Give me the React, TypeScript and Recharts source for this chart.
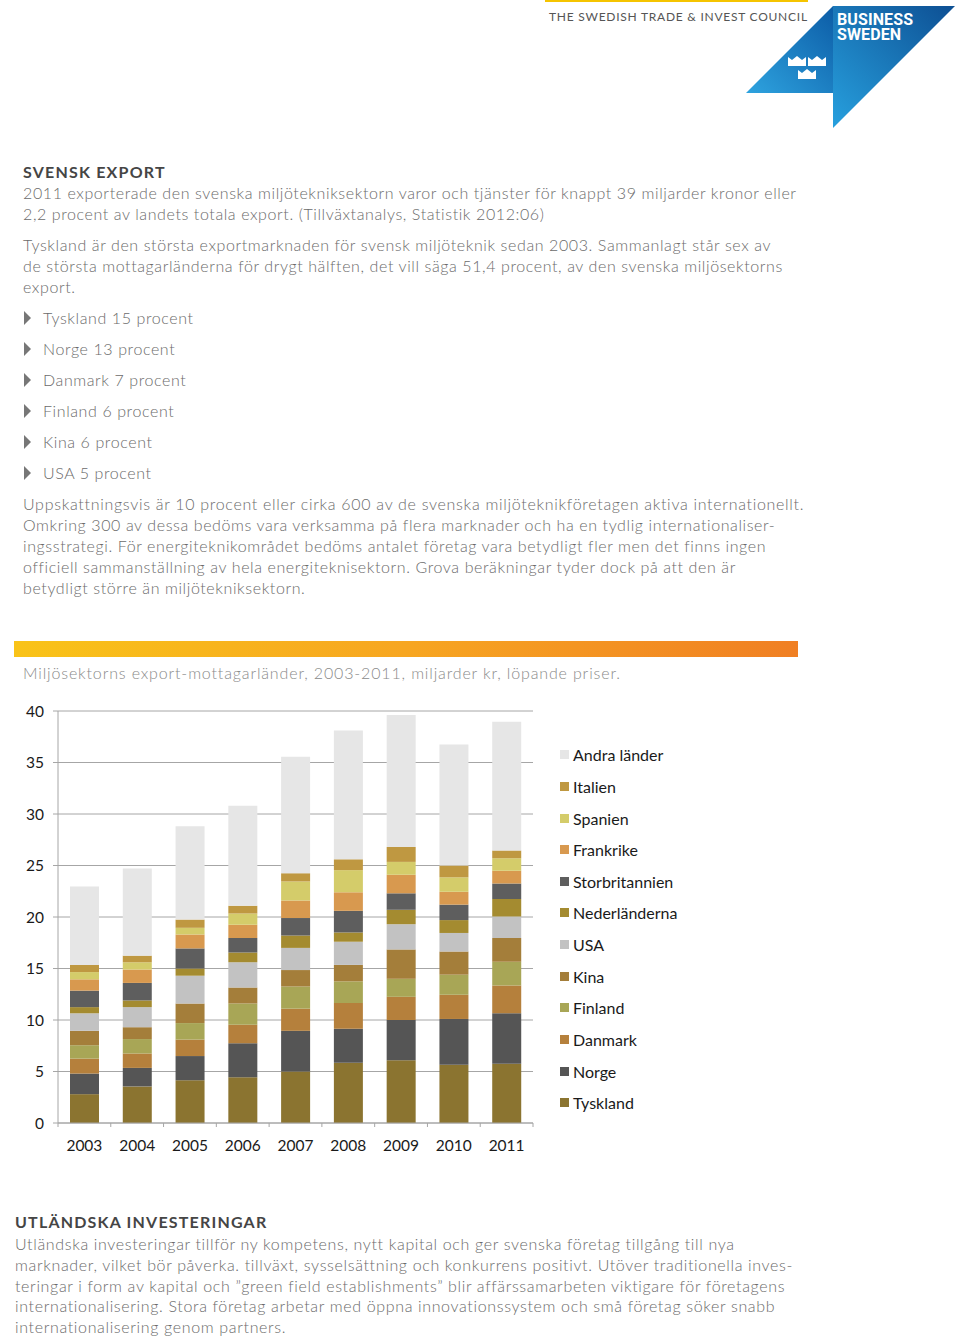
import React from 'react';
import { BarChart, Bar, XAxis, YAxis, CartesianGrid } from 'recharts';

// kategorier och serier (miljarder kr), nedifrån och upp i stapeln
const years = ['2003', '2004', '2005', '2006', '2007', '2008', '2009', '2010', '2011'];
const tyskland = [2.8, 3.55, 4.15, 4.45, 5.0, 5.85, 6.1, 5.65, 5.75];
const norge = [2.0, 1.8, 2.35, 3.3, 3.95, 3.3, 3.9, 4.45, 4.9];
const danmark = [1.45, 1.4, 1.6, 1.8, 2.15, 2.5, 2.25, 2.35, 2.7];
const finland = [1.3, 1.4, 1.6, 2.05, 2.15, 2.1, 1.75, 1.95, 2.3];
const kina = [1.4, 1.15, 1.9, 1.55, 1.6, 1.6, 2.85, 2.25, 2.3];
const usa = [1.7, 1.95, 2.7, 2.45, 2.15, 2.25, 2.45, 1.8, 2.1];
const nederlanderna = [0.6, 0.65, 0.7, 0.95, 1.2, 0.9, 1.4, 1.25, 1.7];
const storbritannien = [1.6, 1.7, 1.95, 1.4, 1.7, 2.1, 1.6, 1.5, 1.5];
const frankrike = [1.1, 1.3, 1.35, 1.3, 1.7, 1.8, 1.8, 1.25, 1.25];
const spanien = [0.7, 0.7, 0.65, 1.1, 1.85, 2.15, 1.25, 1.4, 1.2];
const italien = [0.7, 0.65, 0.8, 0.75, 0.8, 1.05, 1.45, 1.15, 0.75];
const andra = [7.6, 8.45, 9.05, 9.7, 11.3, 12.5, 12.8, 11.75, 12.5];
const yTicks = [0, 5, 10, 15, 20, 25, 30, 35, 40];

const series = [
    { key: 'Tyskland', values: tyskland, color: '#8b7430' },
    { key: 'Norge', values: norge, color: '#555555' },
    { key: 'Danmark', values: danmark, color: '#b5803c' },
    { key: 'Finland', values: finland, color: '#a8a656' },
    { key: 'Kina', values: kina, color: '#a47e3a' },
    { key: 'USA', values: usa, color: '#c2c2c2' },
    { key: 'Nederländerna', values: nederlanderna, color: '#a48b30' },
    { key: 'Storbritannien', values: storbritannien, color: '#5e5e5e' },
    { key: 'Frankrike', values: frankrike, color: '#d8994f' },
    { key: 'Spanien', values: spanien, color: '#d4cc6a' },
    { key: 'Italien', values: italien, color: '#bf9841' },
    { key: 'Andra länder', values: andra, color: '#e6e6e6' },
];

const data = years.map((year, i) => {
    const row: Record<string, string | number> = { year };
    series.forEach(s => { row[s.key] = s.values[i]; });
    return row;
});

const bullets = ['Tyskland 15 procent', 'Norge 13 procent', 'Danmark 7 procent', 'Finland 6 procent', 'Kina 6 procent', 'USA 5 procent'];

const CHART_W = 700;
const CHART_H = 480;
const MARGIN = { top: 21, right: 167, bottom: 17, left: 0 };
const Y_W = 58;
const BAND = (CHART_W - MARGIN.left - MARGIN.right - Y_W) / years.length;
const AXIS_GRAY = '#a6a6a6';
const TICK_GAP = 17;

const XTick = (props: any) => {
    const { x, y, payload, index } = props;
    const axisY = y - TICK_GAP;
    return (
        <g>
            <line x1={x - BAND / 2} x2={x - BAND / 2} y1={axisY} y2={axisY + 4} stroke={AXIS_GRAY} />
            {index === years.length - 1 && (
                <line x1={x + BAND / 2} x2={x + BAND / 2} y1={axisY} y2={axisY + 4} stroke={AXIS_GRAY} />
            )}
            <text x={x} y={y} dy="0.71em" textAnchor="middle" fill="#1a1a1a" fontSize={15.5} fontFamily="Lato">
                {payload.value}
            </text>
        </g>
    );
};

const LegendList = () => (
    <div style={{ position: 'absolute', left: 560, top: 739, fontFamily: 'Lato', fontSize: 16, color: '#1a1a1a' }}>
        {[...series].reverse().map(s => (
            <div key={s.key} style={{ height: 31.64, display: 'flex', alignItems: 'center', whiteSpace: 'nowrap' }}>
                <span style={{ width: 9, height: 9, background: s.color, display: 'inline-block', marginRight: 4 }} />
                {s.key}
            </div>
        ))}
    </div>
);

const Line: React.FC<{ x: number; y: number; style?: React.CSSProperties; children: React.ReactNode }> = ({ x, y, style, children }) => (
    <div style={{ position: 'absolute', left: x, top: y - 11, lineHeight: '22px', whiteSpace: 'nowrap', ...style }}>{children}</div>
);

const body: React.CSSProperties = { fontSize: 16, fontWeight: 300, color: '#6b6b6b', letterSpacing: 0.6 };
const heading: React.CSSProperties = { fontSize: 16, fontWeight: 700, color: '#454545', letterSpacing: 1.2 };

const Crown: React.FC<{ cx: number; cy: number }> = ({ cx, cy }) => (
    <path
        d={`M${cx - 9} ${cy + 5} L${cx - 9} ${cy - 4} L${cx - 5} ${cy - 1} L${cx} ${cy - 5} L${cx + 5} ${cy - 1} L${cx + 9} ${cy - 4} L${cx + 9} ${cy + 5} Z`}
        fill="#fff"
    />
);

export default function App() {
    return (
        <div style={{ position: 'relative', width: 960, height: 1336, background: '#fff', overflow: 'hidden', fontFamily: 'Lato' }}>
            <style>{'body{margin:0}'}</style>

            {/* sidhuvud med logga */}
            <div style={{ position: 'absolute', left: 545, top: 0, width: 263, height: 2, background: '#f5c400' }} />
            <Line x={549} y={17} style={{ fontSize: 12, color: '#555', letterSpacing: 0.75 }}>THE SWEDISH TRADE &amp; INVEST COUNCIL</Line>
            <svg width={960} height={140} style={{ position: 'absolute', left: 0, top: 0 }}>
                <defs>
                    <linearGradient id="lg1" x1="0" y1="1" x2="1" y2="0">
                        <stop offset="0" stopColor="#2ea3df" />
                        <stop offset="1" stopColor="#0c5ca6" />
                    </linearGradient>
                    <linearGradient id="lg2" x1="0" y1="1" x2="1" y2="0">
                        <stop offset="0" stopColor="#27a0de" />
                        <stop offset="1" stopColor="#0d4f93" />
                    </linearGradient>
                </defs>
                <polygon points="746,93 833,6 833,93" fill="url(#lg1)" />
                <polygon points="833,6 955,6 833,128" fill="url(#lg2)" />
                <Crown cx={797} cy={61} />
                <Crown cx={817} cy={61} />
                <Crown cx={807} cy={74} />
                <text x={837} y={25} fill="#fff" fontSize={16} fontWeight={700} fontFamily="Roboto" letterSpacing={0.1}>BUSINESS</text>
                <text x={837} y={40} fill="#fff" fontSize={16} fontWeight={700} fontFamily="Roboto" letterSpacing={0.1}>SWEDEN</text>
            </svg>

            {/* Svensk export */}
            <Line x={23} y={172} style={heading}>SVENSK EXPORT</Line>
            <Line x={23} y={193} style={body}>2011 exporterade den svenska miljötekniksektorn varor och tjänster för knappt 39 miljarder kronor eller</Line>
            <Line x={23} y={214} style={body}>2,2 procent av landets totala export. (Tillväxtanalys, Statistik 2012:06)</Line>
            <Line x={23} y={245} style={body}>Tyskland är den största exportmarknaden för svensk miljöteknik sedan 2003. Sammanlagt står sex av</Line>
            <Line x={23} y={266} style={body}>de största mottagarländerna för drygt hälften, det vill säga 51,4 procent, av den svenska miljösektorns</Line>
            <Line x={23} y={287} style={body}>export.</Line>
            {bullets.map((b, i) => (
                <React.Fragment key={b}>
                    <svg width={10} height={16} style={{ position: 'absolute', left: 23, top: 318 + i * 31 - 8 }}>
                        <polygon points="1,1 8,8 1,15" fill="#777" />
                    </svg>
                    <Line x={43} y={318 + i * 31} style={body}>{b}</Line>
                </React.Fragment>
            ))}
            <Line x={23} y={504} style={{ ...body, letterSpacing: 0.7 }}>Uppskattningsvis är 10 procent eller cirka 600 av de svenska miljöteknikföretagen aktiva internationellt.</Line>
            <Line x={23} y={525} style={body}>Omkring 300 av dessa bedöms vara verksamma på flera marknader och ha en tydlig internationaliser-</Line>
            <Line x={23} y={546} style={body}>ingsstrategi. För energiteknikområdet bedöms antalet företag vara betydligt fler men det finns ingen</Line>
            <Line x={23} y={567} style={body}>officiell sammanställning av hela energiteknisektorn. Grova beräkningar tyder dock på att den är</Line>
            <Line x={23} y={588} style={body}>betydligt större än miljötekniksektorn.</Line>

            {/* diagram */}
            <div style={{ position: 'absolute', left: 14, top: 641, width: 784, height: 16, background: 'linear-gradient(90deg, #f9c318 0%, #f7a621 50%, #f07f23 100%)' }} />
            <Line x={23} y={673} style={{ ...body, color: '#8a8a8a', letterSpacing: 0.85 }}>Miljösektorns export-mottagarländer, 2003-2011, miljarder kr, löpande priser.</Line>

            <div style={{ position: 'absolute', left: 0, top: 690 }}>
                <BarChart width={CHART_W} height={CHART_H} data={data} margin={MARGIN}>
                    <CartesianGrid vertical={false} stroke={AXIS_GRAY} />
                    <XAxis
                        dataKey="year"
                        height={30}
                        stroke={AXIS_GRAY}
                        tickLine={false}
                        tickSize={0}
                        tickMargin={TICK_GAP}
                        interval={0}
                        tick={<XTick />}
                    />
                    <YAxis
                        width={Y_W}
                        domain={[0, 40]}
                        ticks={yTicks}
                        interval={0}
                        stroke={AXIS_GRAY}
                        tickSize={5}
                        tickMargin={9}
                        tick={{ fill: '#1a1a1a', fontSize: 15.5, fontFamily: 'Lato' }}
                    />
                    {series.map(s => (
                        <Bar key={s.key} dataKey={s.key} stackId="a" fill={s.color} barSize={29} isAnimationActive={false} />
                    ))}
                </BarChart>
            </div>
            <LegendList />

            {/* Utländska investeringar */}
            <Line x={15} y={1222} style={heading}>UTLÄNDSKA INVESTERINGAR</Line>
            <Line x={15} y={1244} style={{ ...body, letterSpacing: 0.65 }}>Utländska investeringar tillför ny kompetens, nytt kapital och ger svenska företag tillgång till nya</Line>
            <Line x={15} y={1265} style={{ ...body, letterSpacing: 0.65 }}>marknader, vilket bör påverka. tillväxt, sysselsättning och konkurrens positivt. Utöver traditionella inves-</Line>
            <Line x={15} y={1286} style={{ ...body, letterSpacing: 0.65 }}>teringar i form av kapital och ”green field establishments” blir affärssamarbeten viktigare för företagens</Line>
            <Line x={15} y={1306} style={{ ...body, letterSpacing: 0.65 }}>internationalisering. Stora företag arbetar med öppna innovationssystem och små företag söker snabb</Line>
            <Line x={15} y={1327} style={{ ...body, letterSpacing: 0.65 }}>internationalisering genom partners.</Line>
        </div>
    );
}
